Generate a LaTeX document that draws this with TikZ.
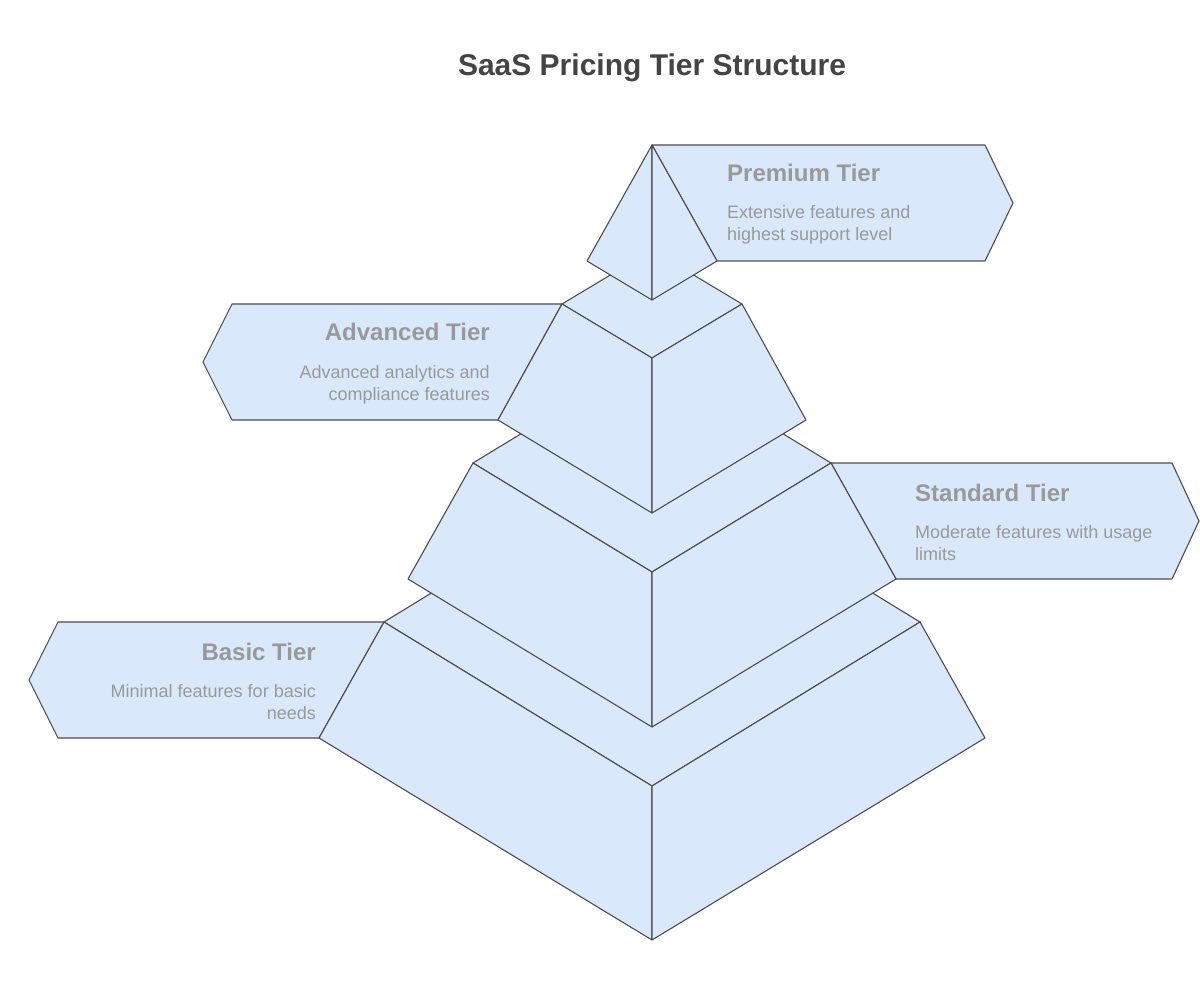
\documentclass[tikz,border=0pt]{standalone}
\usepackage{fontspec}
\setmainfont{Liberation Sans}
\definecolor{tierfill}{HTML}{DAE8FC}
\definecolor{edgecol}{HTML}{4D4D4D}
\definecolor{labelcol}{HTML}{999999}
\definecolor{titlecol}{HTML}{444444}
\begin{document}
\begin{tikzpicture}[x=1pt,y=-1pt,
  face/.style={fill=tierfill,draw=edgecol,line width=1.1pt,line join=round},
  heading/.style={font=\fontsize{24}{28}\selectfont\bfseries,text=labelcol,inner sep=0pt},
  desc/.style={font=\fontsize{18}{22}\selectfont,text=labelcol,inner sep=0pt},
  titlestyle/.style={font=\fontsize{30}{36}\selectfont\bfseries,text=titlecol,inner sep=0pt}]
\useasboundingbox (0,0) rectangle (1200,1000);
\fill[white] (0,0) rectangle (1200,1000);

% tier 4 (basic)
\coordinate (d4t) at (652,458);
\coordinate (d4l) at (384,622);
\coordinate (d4b) at (652,786);
\coordinate (d4r) at (920,622);
\coordinate (s4l) at (319,738);
\coordinate (s4r) at (985,738);
\coordinate (s4b) at (652,940);
% tier 3 (standard)
\coordinate (d3t) at (652,354);
\coordinate (d3l) at (473,463);
\coordinate (d3b) at (652,572);
\coordinate (d3r) at (831,463);
\coordinate (s3l) at (408,579);
\coordinate (s3r) at (896,579);
\coordinate (s3b) at (652,727);
% tier 2 (advanced)
\coordinate (d2t) at (652,250);
\coordinate (d2l) at (562,304);
\coordinate (d2b) at (652,358);
\coordinate (d2r) at (742,304);
\coordinate (s2l) at (498,420);
\coordinate (s2r) at (806,420);
\coordinate (s2b) at (652,513);
% tier 1 (premium)
\coordinate (apex) at (652,145);
\coordinate (p1l) at (587,261);
\coordinate (p1r) at (717,261);
\coordinate (p1b) at (652,300);

% banners
\draw[face] (apex) -- (985,145) -- (1013,203) -- (985,261) -- (p1r) -- cycle;
\draw[face] (d2l) -- (232,304) -- (203,362) -- (232,420) -- (s2l) -- cycle;
\draw[face] (d3r) -- (1172,463) -- (1199,521) -- (1172,579) -- (s3r) -- cycle;
\draw[face] (d4l) -- (58,622) -- (29,680) -- (58,738) -- (s4l) -- cycle;

% tier 4
\draw[face] (d4t) -- (d4l) -- (d4b) -- (d4r) -- cycle;
\draw[face] (d4l) -- (d4b) -- (s4b) -- (s4l) -- cycle;
\draw[face] (d4r) -- (d4b) -- (s4b) -- (s4r) -- cycle;
% tier 3
\draw[face] (d3t) -- (d3l) -- (d3b) -- (d3r) -- cycle;
\draw[face] (d3l) -- (d3b) -- (s3b) -- (s3l) -- cycle;
\draw[face] (d3r) -- (d3b) -- (s3b) -- (s3r) -- cycle;
% tier 2
\draw[face] (d2t) -- (d2l) -- (d2b) -- (d2r) -- cycle;
\draw[face] (d2l) -- (d2b) -- (s2b) -- (s2l) -- cycle;
\draw[face] (d2r) -- (d2b) -- (s2b) -- (s2r) -- cycle;
% tier 1
\draw[face] (apex) -- (p1l) -- (p1b) -- cycle;
\draw[face] (apex) -- (p1r) -- (p1b) -- cycle;

% texts
\node[titlestyle,anchor=base] (title) at (652,76) {SaaS Pricing Tier Structure};

\node[heading,anchor=base west] (h1) at (727,182) {Premium Tier};
\node[desc,anchor=base west] (t1a) at (727,219) {Extensive features and};
\node[desc,anchor=base west] (t1b) at (727,241) {highest support level};

\node[heading,anchor=base east] (h2) at (490,341) {Advanced Tier};
\node[desc,anchor=base east] (t2a) at (490,378) {Advanced analytics and};
\node[desc,anchor=base east] (t2b) at (490,400) {compliance features};

\node[heading,anchor=base west] (h3) at (915,501) {Standard Tier};
\node[desc,anchor=base west] (t3a) at (915,538) {Moderate features with usage};
\node[desc,anchor=base west] (t3b) at (915,560) {limits};

\node[heading,anchor=base east] (h4) at (316,660) {Basic Tier};
\node[desc,anchor=base east] (t4a) at (316,697) {Minimal features for basic};
\node[desc,anchor=base east] (t4b) at (316,719) {needs};
\end{tikzpicture}
\end{document}
